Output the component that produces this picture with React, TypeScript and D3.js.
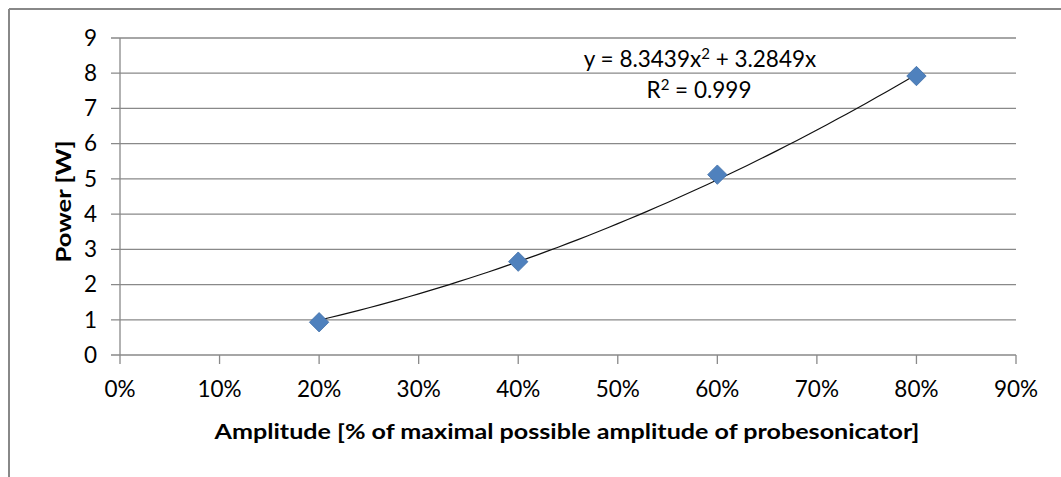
import React from "react";
import * as d3 from "d3";

// measured points
const amplitudes = [0.2, 0.4, 0.6, 0.8];
const powers = [0.93, 2.65, 5.12, 7.92];

// polynomial trendline shown on the chart
const trendA = 8.3439;
const trendB = 3.2849;
const trendR2 = 0.999;

const xTicks = [0, 0.1, 0.2, 0.3, 0.4, 0.5, 0.6, 0.7, 0.8, 0.9];
const yTicks = [0, 1, 2, 3, 4, 5, 6, 7, 8, 9];

const W = 1061;
const H = 477;
const font = "Lato, 'Open Sans', sans-serif";
const grid = "#898989";
const fs = 22.5;

export default function App() {
  const x = d3.scaleLinear().domain([0, 0.9]).range([120, 1016]);
  const y = d3.scaleLinear().domain([0, 9]).range([355, 38]);

  const trendPts = d3.range(0, 61).map((i) => {
    const a = 0.2 + (i / 60) * 0.6;
    return [a, trendA * a * a + trendB * a] as [number, number];
  });
  const line = d3
    .line<[number, number]>()
    .x((d) => x(d[0]))
    .y((d) => y(d[1]));

  const pct = d3.format(".0%");
  const diamond = d3.symbol().type(d3.symbolDiamond2).size(240)();

  return (
    <svg
      width={W}
      height={H}
      style={{ position: "absolute", left: 0, top: 0, background: "#fff" }}
      fontFamily={font}
    >
      {/* outer chart border, cut at right/bottom */}
      <line x1={9} y1={9} x2={W} y2={9} stroke="#888" strokeWidth={2} />
      <line x1={9} y1={9} x2={9} y2={H} stroke="#888" strokeWidth={2} />

      {/* gridlines + y ticks */}
      {yTicks.map((t) => (
        <g key={t}>
          <line x1={111} x2={x(0.9)} y1={y(t)} y2={y(t)} stroke={grid} strokeWidth={1.3} />
          <text x={97} y={y(t) + 7.8} textAnchor="end" fontSize={fs} fill="#000">
            {t}
          </text>
        </g>
      ))}
      {/* y axis line */}
      <line x1={x(0)} x2={x(0)} y1={y(9)} y2={y(0)} stroke={grid} strokeWidth={1.3} />
      {/* x ticks */}
      {xTicks.map((t) => (
        <g key={t}>
          <line x1={x(t)} x2={x(t)} y1={y(0)} y2={y(0) + 9} stroke={grid} strokeWidth={1.3} />
          <text x={x(t)} y={397} textAnchor="middle" fontSize={fs} fill="#000">
            {pct(t)}
          </text>
        </g>
      ))}

      {/* trendline */}
      <path d={line(trendPts) ?? ""} fill="none" stroke="#111" strokeWidth={1.2} />

      {/* markers */}
      {amplitudes.map((a, i) => (
        <path
          key={a}
          d={diamond ?? ""}
          transform={`translate(${x(a)},${y(powers[i])})`}
          fill="#4F81BD"
          stroke="#3f6fa8"
          strokeWidth={0.8}
        />
      ))}

      {/* equation */}
      <text x={700} y={67} textAnchor="middle" fontSize={fs} fill="#000">
        {`y = ${trendA}x`}
        <tspan dy={-8} fontSize={15}>2</tspan>
        <tspan dy={8}>{` + ${trendB}x`}</tspan>
      </text>
      <text x={699} y={98} textAnchor="middle" fontSize={fs} fill="#000">
        R<tspan dy={-8} fontSize={15}>2</tspan>
        <tspan dy={8}>{` = ${trendR2}`}</tspan>
      </text>

      {/* axis titles */}
      <text
        transform={`translate(71,${(y(0) + y(9)) / 2 + 5}) rotate(-90)`}
        textAnchor="middle"
        fontSize={21}
        fontWeight="bold"
        fill="#000"
        textLength={122}
        lengthAdjust="spacingAndGlyphs"
      >
        Power [W]
      </text>
      <text
        x={567}
        y={439}
        textAnchor="middle"
        fontSize={21}
        fontWeight="bold"
        fill="#000"
        textLength={705}
        lengthAdjust="spacingAndGlyphs"
      >
        Amplitude [% of maximal possible amplitude of probesonicator]
      </text>
    </svg>
  );
}
